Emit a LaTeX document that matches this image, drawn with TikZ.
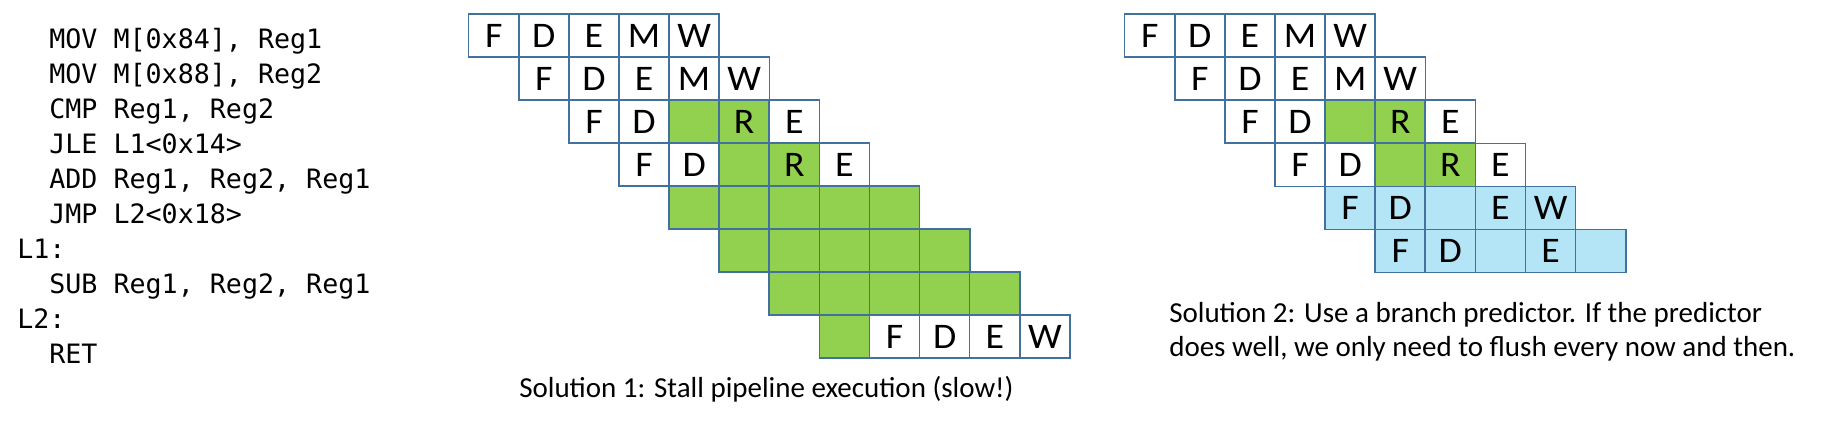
\documentclass[tikz,border=0pt]{standalone}
\usepackage{fontspec}
\setmainfont{Carlito}
\newfontfamily\codefont{DejaVu Sans Mono}
\newfontfamily\cellfontfam[FakeStretch=1.05]{Carlito}
\definecolor{edgeblue}{RGB}{65,113,156}
\definecolor{stallgreen}{RGB}{146,208,80}
\definecolor{specblue}{RGB}{180,229,247}
\tikzset{
  cell/.style={draw=edgeblue, line width=1.2pt, minimum width=37.6pt, minimum height=32.3pt,
    inner sep=0pt, font=\cellfontfam\fontsize{27}{27}\selectfont},
  codeline/.style={anchor=base west, inner sep=0pt, font=\codefont\fontsize{20}{20}\selectfont},
  caption/.style={anchor=base west, inner sep=0pt, font=\fontsize{21.75}{21.75}\selectfont}
}
\begin{document}
\begin{tikzpicture}[x=0.75pt,y=-0.75pt]
\useasboundingbox (0,0) rectangle (1832,423);
% code
\node[codeline] (c1) at (49.1,48.3) {MOV M[0x84], Reg1};
\node[codeline] (c2) at (49.1,83.3) {MOV M[0x88], Reg2};
\node[codeline] (c3) at (49.1,118.3) {CMP Reg1, Reg2};
\node[codeline] (c4) at (49.1,153.3) {JLE L1<0x14>};
\node[codeline] (c5) at (49.1,188.3) {ADD Reg1, Reg2, Reg1};
\node[codeline] (c6) at (49.1,223.3) {JMP L2<0x18>};
\node[codeline] (c7) at (17,258.3) {L1:};
\node[codeline] (c8) at (49.1,293.3) {SUB Reg1, Reg2, Reg1};
\node[codeline] (c9) at (17,328.3) {L2:};
\node[codeline] (c10) at (49.1,363.3) {RET};
% grid 1
\foreach \r/\c/\f/\t in {
  0/0/white/F, 0/1/white/D, 0/2/white/E, 0/3/white/M, 0/4/white/W,
  1/1/white/F, 1/2/white/D, 1/3/white/E, 1/4/white/M, 1/5/white/W,
  2/2/white/F, 2/3/white/D, 2/4/stallgreen/{}, 2/5/stallgreen/R, 2/6/white/E,
  3/3/white/F, 3/4/white/D, 3/5/stallgreen/{}, 3/6/stallgreen/R, 3/7/white/E,
  4/4/stallgreen/{}, 4/5/stallgreen/{}, 4/6/stallgreen/{}, 4/7/stallgreen/{}, 4/8/stallgreen/{},
  5/5/stallgreen/{}, 5/6/stallgreen/{}, 5/7/stallgreen/{}, 5/8/stallgreen/{}, 5/9/stallgreen/{},
  6/6/stallgreen/{}, 6/7/stallgreen/{}, 6/8/stallgreen/{}, 6/9/stallgreen/{}, 6/10/stallgreen/{},
  7/7/stallgreen/{}, 7/8/white/F, 7/9/white/D, 7/10/white/E, 7/11/white/W}
  \node[cell, fill=\f] (a-\r-\c) at ({468.7+50.1*(\c+0.5)},{14+43*(\r+0.5)}) {\t};
\node[caption] (cap1) at (519,397.3) {Solution 1: Stall pipeline execution (slow!)};
% grid 2
\foreach \r/\c/\f/\t in {
  0/0/white/F, 0/1/white/D, 0/2/white/E, 0/3/white/M, 0/4/white/W,
  1/1/white/F, 1/2/white/D, 1/3/white/E, 1/4/white/M, 1/5/white/W,
  2/2/white/F, 2/3/white/D, 2/4/stallgreen/{}, 2/5/stallgreen/R, 2/6/white/E,
  3/3/white/F, 3/4/white/D, 3/5/stallgreen/{}, 3/6/stallgreen/R, 3/7/white/E,
  4/4/specblue/F, 4/5/specblue/D, 4/6/specblue/{}, 4/7/specblue/E, 4/8/specblue/W,
  5/5/specblue/F, 5/6/specblue/D, 5/7/specblue/{}, 5/8/specblue/E, 5/9/specblue/{}}
  \node[cell, fill=\f] (b-\r-\c) at ({1124.7+50.1*(\c+0.5)},{14+43.1*(\r+0.5)}) {\t};
\node[caption] (cap2a) at (1169,322.3) {Solution 2: Use a branch predictor. If the predictor};
\node[caption] (cap2b) at (1169,357) {does well, we only need to flush every now and then.};
\end{tikzpicture}
\end{document}
